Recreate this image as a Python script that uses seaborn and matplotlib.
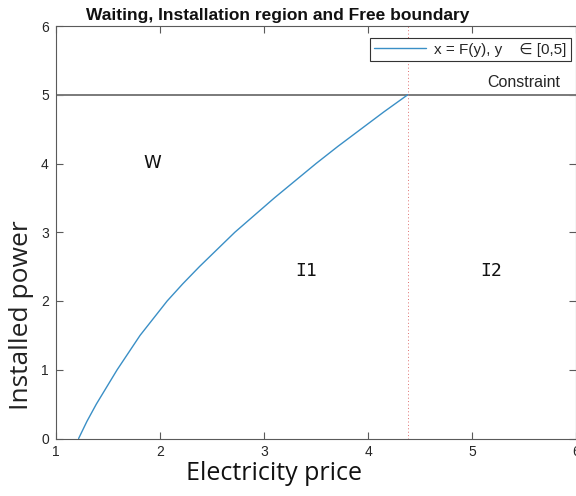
import matplotlib
matplotlib.use("Agg")
import matplotlib.pyplot as plt
import seaborn as sns
import pandas as pd

# Free boundary x = F(y): electricity price at which installing power y becomes optimal
installed_power = [0.0, 0.25, 0.5, 0.75, 1.0, 1.25, 1.5, 1.75, 2.0, 2.25, 2.5,
                   2.75, 3.0, 3.25, 3.5, 3.75, 4.0, 4.25, 4.5, 4.75, 5.0]
boundary_price = [1.22, 1.30, 1.39, 1.49, 1.59, 1.70, 1.81, 1.94, 2.07, 2.22, 2.38,
                  2.55, 2.72, 2.91, 3.10, 3.30, 3.50, 3.71, 3.93, 4.15, 4.38]

constraint_level = 5.0
boundary_price_at_constraint = 4.38

x_ticks = [1, 2, 3, 4, 5, 6]
y_ticks = [0, 1, 2, 3, 4, 5, 6]

region_labels = ["W", "I1", "I2"]
region_x = [1.93, 3.40, 5.18]
region_y = [4.0, 2.43, 2.43]
region_fonts = ["DejaVu Sans", "DejaVu Sans Mono", "DejaVu Sans Mono"]

df = pd.DataFrame({"price": boundary_price, "power": installed_power})

sns.set_theme(style="white")
plt.rcParams["font.family"] = ["Liberation Sans", "DejaVu Sans"]

W, H = 576, 496
fig = plt.figure(figsize=(W / 100, H / 100), dpi=100)
ax_left, ax_right, ax_top, ax_bottom = 55.7, 576.5, 26, 438.5
ax = fig.add_axes([ax_left / W, 1 - ax_bottom / H,
                   (ax_right - ax_left) / W, (ax_bottom - ax_top) / H])

axis_grey = "#5a5a5a"
text_grey = "#262626"

sns.lineplot(data=df, x="price", y="power", sort=False, ax=ax,
             color="#3a8fc6", linewidth=1.0,
             label="x = F(y), y    \u2208 [0,5]")

ax.axhline(constraint_level, color="#7a7a7a", linewidth=1.4, zorder=1)
ax.axvline(boundary_price_at_constraint, color="#e07070", linewidth=0.7,
           linestyle=(0, (1, 2.5)), zorder=1)

ax.set_xlim(1, 6)
ax.set_ylim(0, 6)
ax.set_xticks(x_ticks)
ax.set_yticks(y_ticks)

for side in ["left", "right", "top", "bottom"]:
    ax.spines[side].set_visible(True)
    ax.spines[side].set_color(axis_grey)
    ax.spines[side].set_linewidth(0.8)

ax.tick_params(axis="both", which="major", direction="in", length=5, width=0.8,
               color=axis_grey, labelcolor=text_grey, labelsize=10,
               top=True, right=True, bottom=True, left=True, pad=5)

ax.text(5.845, 5.18, "Constraint", ha="right", va="center",
        fontsize=11.5, color=text_grey)

for lab, xx, yy, fam in zip(region_labels, region_x, region_y, region_fonts):
    ax.text(xx, yy, lab, ha="center", va="center", fontsize=13,
            color="#111111", family=fam)

ax.set_title("Waiting, Installation region and Free boundary",
             fontsize=12.5, fontweight="bold", color="#111111",
             x=(278 - ax_left) / (ax_right - ax_left), pad=4)

ax.set_xlabel("Electricity price", fontsize=18, family="Open Sans",
              color="#111111")
ax.xaxis.set_label_coords((274 - ax_left) / (ax_right - ax_left),
                          -(474 - ax_bottom) / (ax_bottom - ax_top))
ax.xaxis.label.set_va("center")
ax.set_ylabel("Installed power", fontsize=19, family="Open Sans",
              color="#222222")
ax.yaxis.set_label_coords(-(ax_left - 22) / (ax_right - ax_left),
                          (ax_bottom - 315) / (ax_bottom - ax_top))
ax.yaxis.label.set_va("center")

leg = ax.legend(loc="upper right",
                bbox_to_anchor=((571 - ax_left) / (ax_right - ax_left),
                                (ax_bottom - 38) / (ax_bottom - ax_top)),
                borderaxespad=0, fancybox=False, framealpha=1,
                edgecolor="#333333", fontsize=11, handlelength=3.4,
                borderpad=0.3, handletextpad=0.5)
leg.get_frame().set_linewidth(0.8)

fig.savefig("out.png", dpi=100)
